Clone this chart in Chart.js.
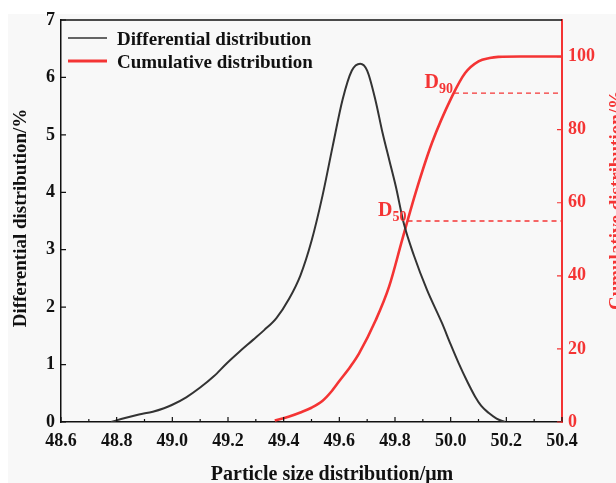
<!DOCTYPE html>
<html>
<head>
<meta charset="utf-8">
<script src="https://cdn.jsdelivr.net/npm/chart.js@4.4.1/dist/chart.umd.min.js"></script>
<style>
html,body{margin:0;padding:0;background:#fff;overflow:hidden;}
#wrap{width:616px;height:483px;position:relative;}
</style>
</head>
<body>
<div id="wrap"><canvas id="c" width="616" height="483"></canvas></div>
<script>
// ---- data ----
const diffX = [48.78, 48.83, 48.88, 48.93, 48.97, 49.0, 49.05, 49.1, 49.15, 49.195, 49.24, 49.29, 49.33, 49.374, 49.42, 49.46, 49.5, 49.54, 49.576, 49.612, 49.645, 49.675, 49.7, 49.73, 49.755, 49.78, 49.803, 49.832, 49.868, 49.915, 49.969, 50.0, 50.029, 50.06, 50.088, 50.11, 50.136, 50.165, 50.195];
const diffY = [0, 0.07, 0.13, 0.18, 0.24, 0.3, 0.43, 0.6, 0.8, 1.02, 1.22, 1.43, 1.6, 1.81, 2.15, 2.55, 3.15, 3.95, 4.8, 5.62, 6.12, 6.24, 6.12, 5.6, 5.04, 4.55, 4.1, 3.45, 2.9, 2.30, 1.72, 1.35, 1.02, 0.7, 0.44, 0.28, 0.16, 0.06, 0.0];
const cumX = [49.368, 49.42, 49.46, 49.5, 49.54, 49.57, 49.6, 49.64, 49.671, 49.731, 49.779, 49.826, 49.874, 49.933, 50.005, 50.052, 50.1, 50.14, 50.171, 50.25, 50.4];
const cumY = [0.4, 1.5, 2.6, 3.9, 5.8, 8.2, 11.2, 15.2, 18.8, 27.9, 37.1, 49.9, 62.7, 76.4, 89.1, 95.5, 98.7, 99.6, 99.9, 100, 100];
const xTicks = [48.6, 48.8, 49.0, 49.2, 49.4, 49.6, 49.8, 50.0, 50.2, 50.4];
const yTicks = [0, 1, 2, 3, 4, 5, 6, 7];
const y2Ticks = [0, 20, 40, 60, 80, 100];
const markNames = ['50', '90'];
const markValues = [55, 90];
const markStartX = [49.845, 50.012];
const seriesNames = ['Differential distribution', 'Cumulative distribution'];
const axisTitles = {x: 'Particle size distribution/\u03bcm', y: 'Differential distribution/%', y2: 'Cumulative distribution/%'};

const RED = 'rgb(244,52,52)';
const BLACK = '#333333';
const FONT = "'Liberation Serif','Times New Roman',serif";

const diffData = diffX.map((x, i) => ({x, y: diffY[i]}));
const cumData = cumX.map((x, i) => ({x, y: cumY[i]}));
const markDatasets = markValues.map((v, i) => ({
  data: [{x: markStartX[i], y: v}, {x: 50.4, y: v}],
  yAxisID: 'y2', borderColor: RED, borderWidth: 1.3, borderDash: [5, 4],
  pointRadius: 0, tension: 0
}));

const decor = {
  id: 'decor',
  beforeDraw(chart) {
    const ctx = chart.ctx;
    ctx.save();
    ctx.fillStyle = '#f8f8f8';
    ctx.fillRect(8, 14, 616, 483);
    ctx.restore();
  },
  afterDraw(chart) {
    const ctx = chart.ctx;
    const a = chart.chartArea;
    const sx = chart.scales.x, sy = chart.scales.y, sy2 = chart.scales.y2;
    ctx.save();
    // top border
    ctx.strokeStyle = '#111';
    ctx.lineWidth = 1.5;
    ctx.beginPath(); ctx.moveTo(a.left, a.top); ctx.lineTo(a.right, a.top); ctx.stroke();
    // inward ticks
    ctx.lineWidth = 1.2;
    ctx.beginPath();
    xTicks.forEach((v, i) => {
      const px = sx.getPixelForValue(v);
      ctx.moveTo(px, a.bottom); ctx.lineTo(px, a.bottom - 5);
      if (i < xTicks.length - 1) {
        const mx = sx.getPixelForValue((v + xTicks[i + 1]) / 2);
        ctx.moveTo(mx, a.bottom); ctx.lineTo(mx, a.bottom - 3);
      }
    });
    yTicks.forEach(v => {
      const py = sy.getPixelForValue(v);
      ctx.moveTo(a.left, py); ctx.lineTo(a.left + 5, py);
    });
    ctx.stroke();
    ctx.strokeStyle = RED;
    ctx.beginPath();
    y2Ticks.forEach(v => {
      const py = sy2.getPixelForValue(v);
      ctx.moveTo(a.right, py); ctx.lineTo(a.right - 5, py);
    });
    ctx.stroke();

    // legend
    ctx.lineWidth = 1.6; ctx.strokeStyle = BLACK;
    ctx.beginPath(); ctx.moveTo(68, 38); ctx.lineTo(107, 38); ctx.stroke();
    ctx.lineWidth = 3; ctx.strokeStyle = RED;
    ctx.beginPath(); ctx.moveTo(68, 61); ctx.lineTo(107, 61); ctx.stroke();
    ctx.fillStyle = '#111';
    ctx.font = 'bold 19px ' + FONT;
    ctx.textAlign = 'left'; ctx.textBaseline = 'alphabetic';
    ctx.fillText(seriesNames[0], 117, 45);
    ctx.fillText(seriesNames[1], 117, 68);

    // D labels
    ctx.fillStyle = RED;
    markValues.forEach((v, i) => {
      const px = sx.getPixelForValue(markStartX[i]) - 1;
      const py = sy2.getPixelForValue(v);
      ctx.font = 'bold 14px ' + FONT;
      const wSub = ctx.measureText(markNames[i]).width;
      ctx.textAlign = 'left';
      ctx.fillText(markNames[i], px - wSub, py);
      ctx.font = 'bold 20px ' + FONT;
      const wD = ctx.measureText('D').width;
      ctx.fillText('D', px - wSub - wD, py - 5);
    });

    // axis titles
    ctx.font = 'bold 19px ' + FONT;
    ctx.textAlign = 'center'; ctx.textBaseline = 'alphabetic';
    ctx.fillStyle = '#111';
    ctx.save(); ctx.translate(26, 218); ctx.rotate(-Math.PI / 2); ctx.fillText(axisTitles.y, 0, 0); ctx.restore();
    ctx.fillStyle = RED;
    ctx.save(); ctx.translate(622, 200); ctx.rotate(-Math.PI / 2); ctx.fillText(axisTitles.y2, 0, 0); ctx.restore();
    ctx.fillStyle = '#111';
    ctx.font = 'bold 20px ' + FONT;
    ctx.fillText(axisTitles.x, 332, 480);
    ctx.restore();
  }
};

new Chart(document.getElementById('c'), {
  type: 'line',
  data: {
    datasets: [
      {data: diffData, yAxisID: 'y', borderColor: BLACK, borderWidth: 2, pointRadius: 0, cubicInterpolationMode: 'monotone'},
      {data: cumData, yAxisID: 'y2', borderColor: RED, borderWidth: 2.6, pointRadius: 0, cubicInterpolationMode: 'monotone'},
      ...markDatasets
    ]
  },
  options: {
    responsive: false,
    animation: false,
    layout: {padding: {top: 20, left: 0, right: 0, bottom: 0}},
    plugins: {legend: {display: false}, tooltip: {enabled: false}},
    scales: {
      x: {
        type: 'linear', min: 48.6, max: 50.4,
        afterBuildTicks: s => { s.ticks = xTicks.map(v => ({value: v})); },
        afterFit: s => { s.height = 61; },
        ticks: {callback: v => v.toFixed(1), font: {family: FONT, size: 18, weight: 'bold'}, color: '#111', padding: 9, maxRotation: 0, autoSkip: false},
        grid: {display: false, drawTicks: false},
        border: {color: '#111', width: 1.5}
      },
      y: {
        position: 'left', min: 0, max: 7,
        afterBuildTicks: s => { s.ticks = yTicks.map(v => ({value: v})); },
        afterFit: s => { s.width = 61; },
        ticks: {font: {family: FONT, size: 18, weight: 'bold'}, color: '#111', padding: 6},
        grid: {display: false, drawTicks: false},
        border: {color: '#111', width: 1.5}
      },
      y2: {
        position: 'right', min: 0, max: 110,
        afterBuildTicks: s => { s.ticks = y2Ticks.map(v => ({value: v})); },
        afterFit: s => { s.width = 54; },
        ticks: {font: {family: FONT, size: 18, weight: 'bold'}, color: RED, padding: 6},
        grid: {display: false, drawTicks: false},
        border: {color: RED, width: 2}
      }
    }
  },
  plugins: [decor]
});
</script>
</body>
</html>
